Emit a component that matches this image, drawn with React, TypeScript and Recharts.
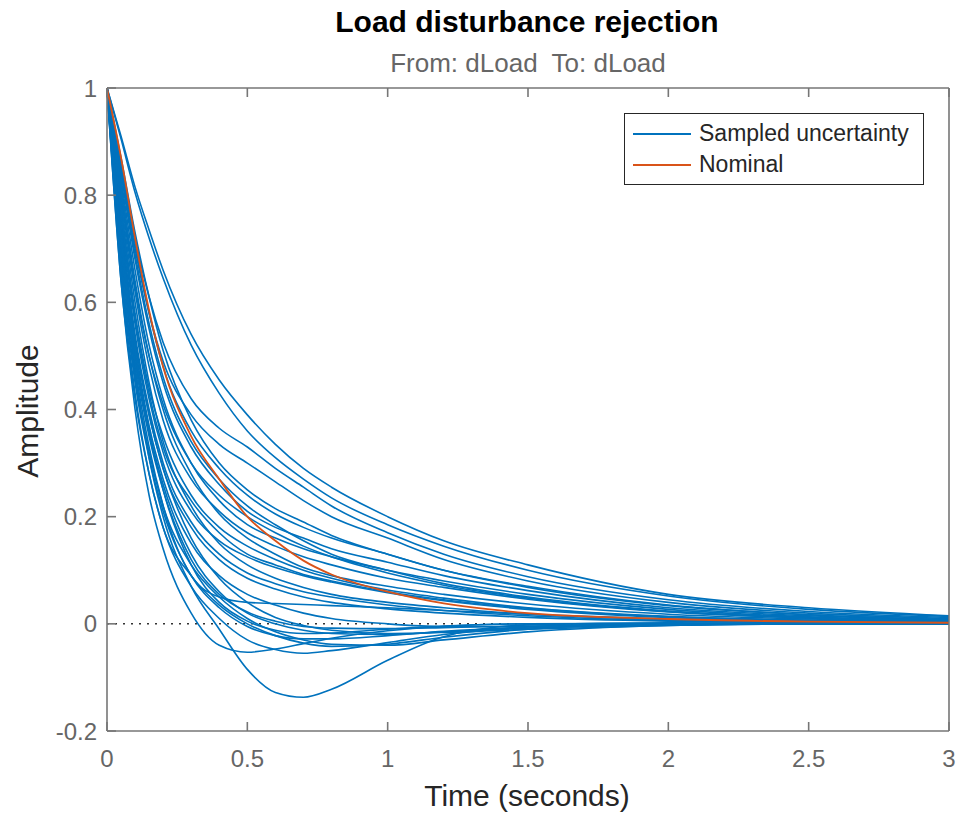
import React from "react";
import { LineChart, Line, XAxis, YAxis, ReferenceLine, Legend } from "recharts";

// time grid (seconds)
const times = [0, 0.05, 0.1, 0.15, 0.2, 0.3, 0.4, 0.5, 0.6, 0.7, 0.8, 1.0, 1.2, 1.5, 2.0, 2.5, 3.0];

// nominal response
const nominal = [1, 0.87, 0.72, 0.585, 0.48, 0.35, 0.27, 0.2, 0.155, 0.118, 0.092, 0.06, 0.038, 0.02, 0.009, 0.004, 0.002];

// sampled responses - slow ones (top of the fan)
const slow1 = [1, 0.91, 0.815, 0.735, 0.66, 0.54, 0.455, 0.39, 0.335, 0.29, 0.255, 0.2, 0.155, 0.11, 0.055, 0.03, 0.015];
const slow2 = [1, 0.905, 0.805, 0.72, 0.645, 0.52, 0.43, 0.36, 0.31, 0.27, 0.235, 0.185, 0.145, 0.1, 0.052, 0.027, 0.014];
const slow3 = [1, 0.86, 0.72, 0.61, 0.525, 0.42, 0.365, 0.33, 0.29, 0.255, 0.22, 0.17, 0.13, 0.088, 0.045, 0.023, 0.012];
const slow4 = [1, 0.85, 0.7, 0.58, 0.49, 0.39, 0.335, 0.3, 0.265, 0.23, 0.2, 0.16, 0.12, 0.08, 0.04, 0.02, 0.01];
const slow5 = [1, 0.87, 0.73, 0.61, 0.51, 0.38, 0.3, 0.25, 0.215, 0.19, 0.165, 0.13, 0.1, 0.068, 0.034, 0.017, 0.008];

// sampled responses - around the nominal
const mid1 = [1, 0.86, 0.71, 0.58, 0.48, 0.36, 0.29, 0.24, 0.205, 0.18, 0.16, 0.13, 0.1, 0.07, 0.035, 0.017, 0.008];
const mid2 = [1, 0.84, 0.68, 0.55, 0.45, 0.33, 0.26, 0.21, 0.18, 0.16, 0.14, 0.115, 0.09, 0.062, 0.03, 0.015, 0.007];
const mid3 = [1, 0.83, 0.66, 0.52, 0.42, 0.3, 0.23, 0.185, 0.16, 0.14, 0.125, 0.1, 0.08, 0.055, 0.027, 0.013, 0.006];
const mid4 = [1, 0.8, 0.62, 0.48, 0.38, 0.27, 0.21, 0.17, 0.145, 0.125, 0.11, 0.085, 0.068, 0.046, 0.022, 0.011, 0.005];
const mid5 = [1, 0.82, 0.64, 0.5, 0.4, 0.28, 0.205, 0.16, 0.13, 0.105, 0.09, 0.07, 0.055, 0.037, 0.018, 0.009, 0.004];
const mid6 = [1, 0.78, 0.58, 0.44, 0.35, 0.24, 0.18, 0.145, 0.12, 0.1, 0.085, 0.063, 0.048, 0.03, 0.014, 0.007, 0.003];
const mid7 = [1, 0.76, 0.56, 0.42, 0.32, 0.21, 0.155, 0.125, 0.105, 0.09, 0.078, 0.058, 0.043, 0.027, 0.012, 0.006, 0.003];
const mid8 = [1, 0.79, 0.6, 0.45, 0.34, 0.22, 0.15, 0.11, 0.085, 0.068, 0.055, 0.04, 0.03, 0.018, 0.008, 0.004, 0.002];
const mid9 = [1, 0.75, 0.54, 0.4, 0.3, 0.19, 0.13, 0.095, 0.075, 0.06, 0.05, 0.035, 0.025, 0.015, 0.006, 0.003, 0.001];
const mid10 = [1, 0.74, 0.53, 0.39, 0.29, 0.18, 0.12, 0.085, 0.065, 0.05, 0.04, 0.028, 0.02, 0.012, 0.005, 0.002, 0.001];
const mid11 = [1, 0.81, 0.63, 0.5, 0.41, 0.3, 0.24, 0.2, 0.17, 0.145, 0.125, 0.095, 0.072, 0.048, 0.023, 0.011, 0.005];
const mid12 = [1, 0.77, 0.57, 0.43, 0.33, 0.23, 0.17, 0.13, 0.11, 0.092, 0.08, 0.06, 0.045, 0.029, 0.013, 0.006, 0.003];
const mid13 = [1, 0.85, 0.69, 0.56, 0.46, 0.34, 0.27, 0.22, 0.185, 0.155, 0.13, 0.1, 0.075, 0.05, 0.024, 0.012, 0.006];

// sampled responses - fast ones, some with undershoot
const fast1 = [1, 0.7, 0.47, 0.31, 0.2, 0.07, -0.01, -0.085, -0.128, -0.137, -0.122, -0.068, -0.024, -0.002, 0.002, 0.001, 0];
const fast2 = [1, 0.64, 0.42, 0.28, 0.18, 0.09, 0.035, 0, -0.022, -0.036, -0.042, -0.038, -0.025, -0.01, 0, 0, 0];
const fast3 = [1, 0.66, 0.43, 0.28, 0.18, 0.07, 0.01, -0.03, -0.048, -0.055, -0.05, -0.035, -0.02, -0.006, 0, 0, 0];
const fast4 = [1, 0.68, 0.46, 0.32, 0.22, 0.11, 0.05, 0.01, -0.015, -0.03, -0.038, -0.04, -0.03, -0.015, -0.003, 0, 0];
const fast5 = [1, 0.64, 0.4, 0.24, 0.14, 0.02, -0.04, -0.053, -0.047, -0.037, -0.027, -0.013, -0.005, 0, 0, 0, 0];
const fast6 = [1, 0.7, 0.48, 0.33, 0.22, 0.09, 0.05, 0.04, 0.038, 0.036, 0.034, 0.03, 0.025, 0.018, 0.009, 0.004, 0.002];
const fast7 = [1, 0.72, 0.5, 0.36, 0.26, 0.13, 0.06, 0.02, 0, -0.012, -0.018, -0.02, -0.015, -0.008, -0.002, 0, 0];
const fast8 = [1, 0.74, 0.53, 0.39, 0.29, 0.16, 0.085, 0.04, 0.012, -0.003, -0.012, -0.018, -0.016, -0.01, -0.003, 0, 0];
const fast9 = [1, 0.73, 0.52, 0.37, 0.27, 0.15, 0.09, 0.055, 0.035, 0.02, 0.01, 0, -0.005, -0.005, -0.002, 0, 0];
const fast10 = [1, 0.7, 0.49, 0.35, 0.25, 0.12, 0.055, 0.022, 0.005, -0.005, -0.008, -0.009, -0.007, -0.004, -0.001, 0, 0];
const fast11 = [1, 0.67, 0.45, 0.31, 0.21, 0.09, 0.03, -0.005, -0.022, -0.028, -0.028, -0.022, -0.014, -0.006, -0.001, 0, 0];
const fast12 = [1, 0.72, 0.51, 0.36, 0.25, 0.11, 0.04, 0.005, -0.012, -0.018, -0.017, -0.01, -0.004, 0, 0.001, 0, 0];

const sampled = [
  slow1, slow2, slow3, slow4, slow5,
  mid1, mid2, mid3, mid4, mid5, mid6, mid7, mid8, mid9, mid10, mid11, mid12, mid13,
  fast1, fast2, fast3, fast4, fast5, fast6, fast7, fast8, fast9, fast10, fast11, fast12,
];

const xTicks = [0, 0.5, 1, 1.5, 2, 2.5, 3];
const yTicks = [-0.2, 0, 0.2, 0.4, 0.6, 0.8, 1];

const data = times.map((t, i) => {
  const row: Record<string, number> = { t, nominal: nominal[i] };
  sampled.forEach((s, k) => {
    row["s" + k] = s[i];
  });
  return row;
});

const BLUE = "#0072BD";
const ORANGE = "#D95319";
const AXIS = "#767676";
const TICK_TEXT = "#666";
const FONT = "'Liberation Sans', Arial, Helvetica, sans-serif";
const TICK_LEN = 9;

// MATLAB style ticks: pointing into the axes box
const BottomTick = (props: any) => {
  const { x, y, payload } = props;
  return (
    <g>
      <line x1={x} y1={y} x2={x} y2={y - TICK_LEN} stroke={AXIS} strokeWidth={1.6} />
      <text x={x} y={y + 19} dy="0.71em" textAnchor="middle" fill={TICK_TEXT} fontSize={24} fontFamily={FONT}>
        {payload.value}
      </text>
    </g>
  );
};

const TopTick = (props: any) => {
  const { x, y } = props;
  return <line x1={x} y1={y} x2={x} y2={y + TICK_LEN} stroke={AXIS} strokeWidth={1.6} />;
};

const LeftTick = (props: any) => {
  const { x, y, payload } = props;
  return (
    <g>
      <line x1={x} y1={y} x2={x + TICK_LEN} y2={y} stroke={AXIS} strokeWidth={1.6} />
      <text x={x - 10} y={y} dy="0.355em" textAnchor="end" fill={TICK_TEXT} fontSize={24} fontFamily={FONT}>
        {payload.value}
      </text>
    </g>
  );
};

const RightTick = (props: any) => {
  const { x, y } = props;
  return <line x1={x} y1={y} x2={x - TICK_LEN} y2={y} stroke={AXIS} strokeWidth={1.6} />;
};

const renderLegend = () => (
  <div
    style={{
      width: 300,
      height: 72,
      boxSizing: "border-box",
      border: "1.5px solid #262626",
      background: "#fff",
      fontFamily: FONT,
      fontSize: 23,
      color: "#262626",
      paddingTop: 4,
    }}
  >
    <div style={{ display: "flex", alignItems: "center", height: 31 }}>
      <span style={{ display: "inline-block", width: 58, height: 2, background: BLUE, marginLeft: 8, marginRight: 8 }} />
      Sampled uncertainty
    </div>
    <div style={{ display: "flex", alignItems: "center", height: 31 }}>
      <span style={{ display: "inline-block", width: 58, height: 2, background: ORANGE, marginLeft: 8, marginRight: 8 }} />
      Nominal
    </div>
  </div>
);

export default function App() {
  return (
    <div style={{ position: "absolute", left: 0, top: 0, width: 961, height: 815, background: "#fff" }}>
      <LineChart width={961} height={815} data={data} margin={{ top: 87, right: 11, bottom: 44, left: 47 }}>
        <XAxis
          dataKey="t"
          type="number"
          domain={[0, 3]}
          ticks={xTicks}
          interval={0}
          height={40}
          stroke={AXIS}
          strokeWidth={1.6}
          tickLine={false}
          tickSize={0}
          tickMargin={0}
          tick={<BottomTick />}
        />
        <XAxis
          xAxisId="top"
          orientation="top"
          dataKey="t"
          type="number"
          domain={[0, 3]}
          ticks={xTicks}
          interval={0}
          height={1}
          stroke={AXIS}
          strokeWidth={1.6}
          tickLine={false}
          tickSize={0}
          tickMargin={0}
          tick={<TopTick />}
        />
        <YAxis
          type="number"
          domain={[-0.2, 1]}
          ticks={yTicks}
          interval={0}
          width={60}
          stroke={AXIS}
          strokeWidth={1.6}
          tickLine={false}
          tickSize={0}
          tickMargin={0}
          tick={<LeftTick />}
        />
        <YAxis
          yAxisId="right"
          orientation="right"
          type="number"
          domain={[-0.2, 1]}
          ticks={yTicks}
          interval={0}
          width={1}
          stroke={AXIS}
          strokeWidth={1.6}
          tickLine={false}
          tickSize={0}
          tickMargin={0}
          tick={<RightTick />}
        />
        <ReferenceLine y={0} stroke="#333" strokeWidth={1.5} strokeDasharray="2 6" />
        {sampled.map((_, k) => (
          <Line
            key={k}
            type="monotone"
            dataKey={"s" + k}
            stroke={BLUE}
            strokeWidth={1.6}
            dot={false}
            isAnimationActive={false}
            legendType="none"
          />
        ))}
        <Line type="monotone" dataKey="nominal" stroke={ORANGE} strokeWidth={1.8} dot={false} isAnimationActive={false} />
        <Legend
          layout="vertical"
          align="center"
          verticalAlign="middle"
          content={renderLegend}
          wrapperStyle={{ left: 624, top: 113, width: 300, height: 72 }}
        />
      </LineChart>
      <svg width={961} height={815} style={{ position: "absolute", left: 0, top: 0, pointerEvents: "none" }}>
        <text x={527} y={32} textAnchor="middle" fontFamily={FONT} fontWeight="bold" fontSize={30} fill="#000">
          Load disturbance rejection
        </text>
        <text x={528} y={72} textAnchor="middle" fontFamily={FONT} fontSize={26} fill="#666" xmlSpace="preserve">
          From: dLoad  To: dLoad
        </text>
        <text x={527} y={806} textAnchor="middle" fontFamily={FONT} fontSize={30} fill="#262626">
          Time (seconds)
        </text>
        <text
          x={38}
          y={411}
          textAnchor="middle"
          fontFamily={FONT}
          fontSize={30}
          fill="#262626"
          transform="rotate(-90 38 411)"
        >
          Amplitude
        </text>
      </svg>
    </div>
  );
}
